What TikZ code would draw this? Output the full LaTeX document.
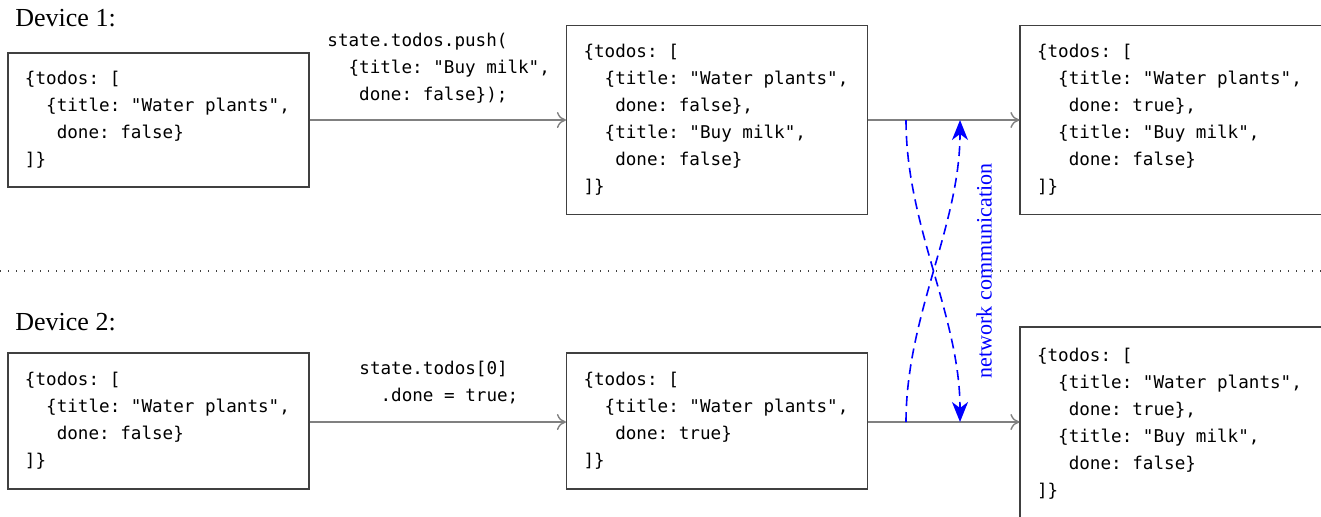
\documentclass[tikz,border=0pt]{standalone}
\usepackage{fontspec}
\setmainfont{Liberation Serif}
\setmonofont{DejaVu Sans Mono}
\usetikzlibrary{arrows.meta}
\definecolor{boxline}{gray}{0.25}
\definecolor{flowline}{gray}{0.5}
\newcommand{\fixspaces}{\spaceskip=5.3pt\relax\xspaceskip=5.3pt\relax}
\begin{document}
\begin{tikzpicture}[x=0.5pt,y=-0.5pt,
  code/.style={font=\ttfamily\fontsize{8.8}{13.5}\selectfont,execute at begin node=\fixspaces},
  state/.style={code,draw=boxline,line width=0.6pt,text width=133.5pt,inner xsep=8.5pt,inner ysep=0pt,align=left,anchor=center},
  cutstate/.style={state,text width=141.5pt},
  lbl/.style={code,align=left,anchor=north west,inner sep=0pt},
  flow/.style={draw=flowline,line width=0.7pt,-{To[length=4.5pt,width=8pt]}},
  net/.style={blue,line width=0.8pt,dash pattern=on 5pt off 3pt,-{Stealth[length=10pt,width=8pt,inset=3pt]}},
  dev/.style={font=\fontsize{13}{15}\selectfont,anchor=west,inner sep=0pt}]
\useasboundingbox (0,0) rectangle (1321,516);
\newcommand{\ind}[1]{\phantom{#1}}

\node[dev] (dev1) at (15,18) {Device 1:};
\node[dev] (dev2) at (15,322) {Device 2:};

\node[state,minimum height=67pt] (A1) at (158.5,120) {\{todos: [\\\ind{xx}\{title: "Water plants",\\\ind{xxx}done: false\}\\]\}};
\node[state,minimum height=94.5pt] (B1) at (717,120) {\{todos: [\\\ind{xx}\{title: "Water plants",\\\ind{xxx}done: false\},\\\ind{xx}\{title: "Buy milk",\\\ind{xxx}done: false\}\\]\}};
\node[cutstate,minimum height=94.5pt] (C1) at (1178.5,120) {\{todos: [\\\ind{xx}\{title: "Water plants",\\\ind{xxx}done: true\},\\\ind{xx}\{title: "Buy milk",\\\ind{xxx}done: false\}\\]\}};

\node[state,minimum height=68pt] (A2) at (158.5,421) {\{todos: [\\\ind{xx}\{title: "Water plants",\\\ind{xxx}done: false\}\\]\}};
\node[state,minimum height=68pt] (B2) at (717,421) {\{todos: [\\\ind{xx}\{title: "Water plants",\\\ind{xxx}done: true\}\\]\}};
\node[cutstate,minimum height=97pt] (C2) at (1178.5,424) {\{todos: [\\\ind{xx}\{title: "Water plants",\\\ind{xxx}done: true\},\\\ind{xx}\{title: "Buy milk",\\\ind{xxx}done: false\}\\]\}};

\node[lbl] (L1) at (327,33) {state.todos.push(\\\ind{xx}\{title: "Buy milk",\\\ind{xxx}done: false\});};
\node[lbl] (L2) at (359,361) {state.todos[0]\\\ind{xx}.done = true;};

\draw[flow] (A1.east |- 0,120) -- (B1.west |- 0,120);
\draw[flow] (B1.east |- 0,120) -- (C1.west |- 0,120);
\draw[flow] (A2.east |- 0,422) -- (B2.west |- 0,422);
\draw[flow] (B2.east |- 0,422) -- (C2.west |- 0,422);

\draw[boxline,line width=0.6pt,dash pattern=on 0.6pt off 3.4pt] (0,271) -- (1321,271);

\coordinate (s1) at (906,120);
\coordinate (e1) at (960,422);
\coordinate (s2) at (906,422);
\coordinate (e2) at (960,120);
\draw[net] (s1) .. controls (906,226) and (960,316) .. (e1);
\draw[net] (s2) .. controls (906,316) and (960,226) .. (e2);
\node[blue,rotate=90,font=\fontsize{11}{13}\selectfont,inner sep=0pt] (nc) at (984,271) {network communication};
\end{tikzpicture}
\end{document}
